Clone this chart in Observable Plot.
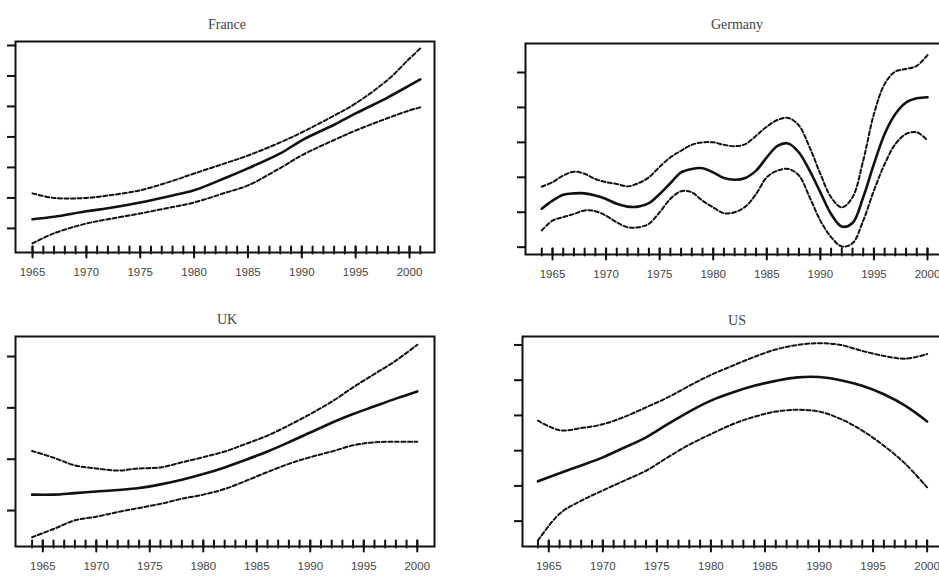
<!DOCTYPE html>
<html><head><meta charset="utf-8">
<script src="https://cdn.jsdelivr.net/npm/d3@7"></script>
<script src="https://cdn.jsdelivr.net/npm/@observablehq/plot@0.6"></script>
<style>
body{margin:0;background:#fff;overflow:hidden}
#wrap{position:relative;width:939px;height:576px;overflow:hidden;background:#fff}
.panel{position:absolute}
.title{position:absolute;font-family:"Liberation Serif","DejaVu Serif",serif;font-size:14px;color:#444;transform:translate(-50%,-50%);white-space:nowrap}
</style></head><body><div id="wrap"></div>
<script>
// ---- Data (y units arbitrary, unlabeled axes) ----
const panelTitles = ["France", "Germany", "UK", "US"];

const franceYears = [1965,1967,1970,1972,1975,1978,1980,1983,1985,1988,1990,1993,1995,1998,2000,2001];
const franceMid   = [0.30,0.38,0.56,0.66,0.85,1.08,1.25,1.67,1.97,2.46,2.89,3.40,3.77,4.30,4.69,4.89];
const franceHi    = [1.15,1.00,1.00,1.08,1.25,1.56,1.80,2.15,2.39,2.82,3.15,3.70,4.10,4.88,5.57,5.90];
const franceLo    = [-0.49,-0.16,0.16,0.30,0.49,0.70,0.85,1.18,1.41,1.98,2.40,2.90,3.21,3.62,3.87,3.97];

const germanyYears = [1964,1965,1966,1967,1968,1969,1970,1971,1972,1973,1974,1975,1976,1977,1978,1979,1980,1981,1982,1983,1984,1985,1986,1987,1988,1989,1990,1991,1992,1993,1994,1995,1996,1997,1998,1999,2000];
const germanyMid = [1.10,1.33,1.50,1.54,1.54,1.48,1.38,1.24,1.16,1.16,1.26,1.52,1.83,2.14,2.24,2.26,2.14,1.98,1.93,1.98,2.19,2.57,2.90,2.97,2.71,2.19,1.57,0.95,0.59,0.69,1.43,2.38,3.24,3.81,4.14,4.26,4.29];
const germanyHi  = [1.73,1.86,2.05,2.16,2.10,1.95,1.86,1.81,1.74,1.83,2.00,2.30,2.57,2.76,2.93,3.00,3.00,2.93,2.89,2.95,3.19,3.45,3.64,3.70,3.48,2.86,2.10,1.43,1.14,1.43,2.48,3.81,4.67,5.03,5.10,5.19,5.50];
const germanyLo  = [0.48,0.76,0.86,0.95,1.05,1.03,0.90,0.71,0.57,0.57,0.67,1.00,1.38,1.60,1.57,1.33,1.14,0.97,1.00,1.16,1.52,2.00,2.19,2.24,2.05,1.43,0.76,0.29,0.02,0.11,0.76,1.62,2.38,2.95,3.24,3.29,3.05];

const ukYears = [1964,1966,1968,1970,1972,1974,1976,1978,1980,1982,1984,1986,1988,1990,1992,1994,1996,1998,2000];
const ukMid   = [0.31,0.31,0.34,0.37,0.40,0.44,0.51,0.60,0.71,0.84,0.99,1.15,1.33,1.52,1.71,1.88,2.03,2.18,2.32];
const ukHi    = [1.16,1.03,0.88,0.82,0.78,0.82,0.84,0.94,1.04,1.15,1.30,1.46,1.66,1.88,2.12,2.40,2.66,2.92,3.23];
const ukLo    = [-0.52,-0.36,-0.19,-0.12,-0.03,0.05,0.13,0.23,0.31,0.42,0.58,0.75,0.91,1.04,1.15,1.27,1.33,1.34,1.34];

const usYears = [1964,1966,1968,1970,1972,1974,1976,1978,1980,1982,1984,1986,1988,1990,1992,1994,1996,1998,2000];
const usMid   = [1.13,1.36,1.58,1.81,2.09,2.38,2.75,3.11,3.42,3.65,3.84,3.98,4.08,4.09,4.00,3.84,3.60,3.27,2.83];
const usHi    = [2.85,2.58,2.64,2.75,2.96,3.23,3.51,3.84,4.15,4.41,4.66,4.87,5.00,5.05,5.00,4.83,4.69,4.61,4.74];
const usLo    = [-0.55,0.21,0.58,0.87,1.15,1.43,1.81,2.17,2.47,2.75,2.96,3.11,3.16,3.11,2.90,2.57,2.14,1.62,0.96];

const majorYears = [1965,1970,1975,1980,1985,1990,1995,2000];

// ---- Layout (pixels) ----
const layouts = [
  {left:0,   top:0,   width:470, height:290, mt:41, mb:38, ml:15, mr:36, xdom:[1963.42,2002.32], ydom:[-0.79,6.13], yticks:[0,1,2,3,4,5,6], first:1965, last:2001, tx:227, ty:25},
  {left:470, top:0,   width:480, height:290, mt:43, mb:36, ml:55, mr:5,  xdom:[1962.48,2001.68], ydom:[-0.21,5.83], yticks:[0,1,2,3,4,5],   first:1964, last:2000, tx:737, ty:25},
  {left:0,   top:290, width:470, height:286, mt:46, mb:30, ml:15, mr:36, xdom:[1962.45,2001.61], ydom:[-0.70,3.39], yticks:[0,1,2,3],       first:1964, last:2000, tx:227, ty:320},
  {left:470, top:290, width:480, height:286, mt:46, mb:30, ml:52, mr:5,  xdom:[1962.57,2001.70], ydom:[-0.72,5.24], yticks:[0,1,2,3,4,5],   first:1964, last:2000, tx:737, ty:321}
];

const series = [
  [franceYears, franceMid, franceHi, franceLo],
  [germanyYears, germanyMid, germanyHi, germanyLo],
  [ukYears, ukMid, ukHi, ukLo],
  [usYears, usMid, usHi, usLo]
];

const stick = {draw(context, l) { context.moveTo(0, 0); context.lineTo(0, -l); }};

const wrap = document.getElementById("wrap");
series.forEach(([years, mid, hi, lo], i) => {
  const L = layouts[i];
  const rows = k => years.map((yr, j) => ({year: yr, v: k[j]}));
  const allYears = d3.range(L.first, L.last + 1);
  const plot = Plot.plot({
    width: L.width, height: L.height,
    marginTop: L.mt, marginBottom: L.mb, marginLeft: L.ml, marginRight: L.mr,
    x: {domain: L.xdom},
    y: {domain: L.ydom},
    style: {fontFamily: "'Liberation Sans Narrow','Liberation Sans',sans-serif", fontSize: "11.5px", background: "white"},
    marks: [
      Plot.axisY({ticks: L.yticks, tickSize: 8, tickFormat: () => "", label: null, strokeWidth: 2, stroke: "#111"}),
      Plot.axisX({ticks: majorYears, tickSize: 0, tickPadding: 15, tickFormat: d => String(d), label: null, fill: "#444"}),
      Plot.vector(allYears, {x: d => d, frameAnchor: "bottom", dy: 1, length: 7, rotate: 0, anchor: "start", shape: stick, stroke: "#111", strokeWidth: 2}),
      Plot.vector(majorYears, {x: d => d, frameAnchor: "bottom", dy: 5, length: 11, rotate: 0, anchor: "start", shape: stick, stroke: "#111", strokeWidth: 2}),
      Plot.line(rows(hi), {x: "year", y: "v", curve: "catmull-rom", stroke: "#111", strokeWidth: 2, strokeDasharray: "4,2.5"}),
      Plot.line(rows(lo), {x: "year", y: "v", curve: "catmull-rom", stroke: "#111", strokeWidth: 2, strokeDasharray: "4,2.5"}),
      Plot.line(rows(mid), {x: "year", y: "v", curve: "catmull-rom", stroke: "#111", strokeWidth: 2.6}),
      Plot.frame({stroke: "#111", strokeWidth: 2})
    ]
  });
  plot.classList.add("panel");
  plot.style.left = L.left + "px";
  plot.style.top = L.top + "px";
  wrap.appendChild(plot);
  const t = document.createElement("div");
  t.className = "title";
  t.textContent = panelTitles[i];
  t.style.left = L.tx + "px";
  t.style.top = L.ty + "px";
  wrap.appendChild(t);
});
</script></body></html>
